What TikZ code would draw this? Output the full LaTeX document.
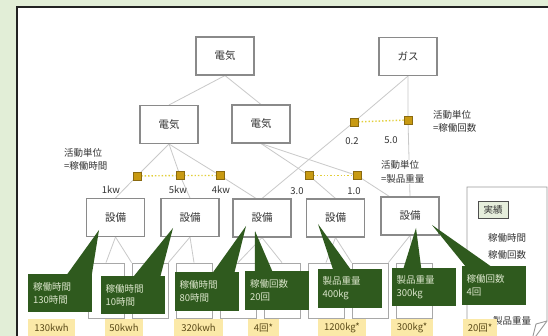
\documentclass[tikz,border=0pt]{standalone}
\usepackage{fontspec}
\setmainfont{Noto Sans CJK JP}
\usetikzlibrary{calc}
\pgfdeclarelayer{back}
\pgfdeclarelayer{wires}
\pgfsetlayers{back,wires,main}
\definecolor{bgc}{HTML}{E2EED7}
\definecolor{framec}{HTML}{222222}
\definecolor{boxgray}{HTML}{8A8A8A}
\definecolor{txt}{HTML}{333333}
\definecolor{wiregray}{HTML}{C9C9C9}
\definecolor{sqfill}{HTML}{C89A12}
\definecolor{sqdark}{HTML}{8A6A10}
\definecolor{dotyellow}{HTML}{E2CF3A}
\definecolor{cgreen}{HTML}{2F5A1E}
\definecolor{ctext}{HTML}{DCE6CC}
\definecolor{vyellow}{HTML}{FBE9A8}
\definecolor{vtext}{HTML}{5A4A18}
\definecolor{smallgray}{HTML}{A8A8A8}
\definecolor{notegray}{HTML}{9A9A9A}
\definecolor{jfill}{HTML}{E6EEDC}
\begin{document}
\begin{tikzpicture}[x=1pt,y=-1pt,
  box/.style={draw=boxgray, line width=1.1pt, fill=white, minimum width=58pt, minimum height=38pt, inner sep=0pt, font=\fontsize{10.5}{12}\selectfont, text=txt},
  sq/.style={draw=sqdark, fill=sqfill, minimum size=8pt, inner sep=0pt, line width=0.6pt},
  wire/.style={draw=wiregray, line width=0.8pt},
  dotline/.style={draw=dotyellow, line width=1.4pt, dotted},
  lbl/.style={font=\fontsize{9.5}{13.5}\selectfont, text=txt, inner sep=1pt, align=left},
  wlbl/.style={lbl, fill=white},
  call/.style={fill=cgreen, text=ctext, font=\fontsize{9.5}{13}\selectfont, inner xsep=5pt, inner ysep=0pt, align=left, minimum height=38pt, text width=54pt},
  val/.style={fill=vyellow, text=vtext, font=\fontsize{9.5}{11}\selectfont, inner sep=0pt, minimum height=18pt},
  smallbox/.style={draw=smallgray, fill=white, line width=0.8pt, minimum width=36pt, minimum height=55pt, inner sep=0pt},
  notetxt/.style={font=\fontsize{9.5}{11}\selectfont, text=txt, inner sep=0pt}
]
\useasboundingbox (0,0) rectangle (548,336);
\begin{pgfonlayer}{back}
  \fill[bgc] (0,0) rectangle (548,336);
  \filldraw[fill=white, draw=framec, line width=2pt] (17,7) rectangle (570,360);
\end{pgfonlayer}

% main boxes
\node[box] (e0) at (225,56) {電気};
\node[box] (gas) at (408,56.5) {ガス};
\node[box] (e1) at (169,124.5) {電気};
\node[box] (e2) at (261,124) {電気};

% small boxes (lower level)
\foreach \i in {1,...,8} {
  \node[smallbox] (b\i) at ({106+44*(\i-1)},290.5) {};
}

\node[box] (s1) at (115.5,217.5) {設備};
\node[box] (s2) at (190,217.5) {設備};
\node[box] (s3) at (262,218) {設備};
\node[box] (s4) at (335.5,218) {設備};
\node[box] (s5) at (410,216) {設備};

% squares
\node[sq] (q1) at (137,176) {};
\node[sq] (q2) at (180,175.5) {};
\node[sq] (q3) at (220,175.5) {};
\node[sq] (q4) at (309,175.5) {};
\node[sq] (q5) at (357,175.5) {};
\node[sq] (g1) at (354,122) {};
\node[sq] (g2) at (408,120) {};

% wires
\begin{pgfonlayer}{wires}
  \draw[wire] (e0.south) -- (e1.north);
  \draw[wire] (e0.south) -- (e2.north);
  \draw[wire] (gas.south) -- (g1.center) -- (s3.north);
  \draw[wire] (gas.south) -- (g2.center) -- (s5.north);
  \draw[wire] (e1.south) -- (q1.center) -- (s1.north);
  \draw[wire] (e1.south) -- (q2.center) -- (s2.north);
  \draw[wire] (e1.south) -- (q3.center) -- ($(s3.north west)!0.4!(s3.north east)$);
  \draw[wire] (e2.south) -- (q4.center) -- (s4.north);
  \draw[wire] (e2.south) -- (q5.center) -- ($(s5.north west)!0.15!(s5.north east)$);
  \draw[wire] (s1.south) -- (b1.north);
  \draw[wire] (s1.south) -- (b2.north west);
  \draw[wire] (s2.south) -- (b2.north east);
  \draw[wire] (s2.south) -- (b3.north);
  \draw[wire] (s3.south) -- (b4.north);
  \draw[wire] (s3.south) -- (b5.north);
  \draw[wire] (s4.south) -- (b6.north);
  \draw[wire] (s4.south) -- (b7.north west);
  \draw[wire] (s5.south) -- (b7.north east);
  \draw[wire] (s5.south) -- (b8.north);
  \draw[dotline] (q1) -- (q2) -- (q3);
  \draw[dotline] (q4) -- (q5);
  \draw[dotline] (g1) -- (g2);
\end{pgfonlayer}

% labels
\node[lbl, anchor=west] (la1) at (63,159.5) {活動単位\\=稼働時間};
\node[lbl, anchor=west] (la2) at (432,121.5) {活動単位\\=稼働回数};
\node[wlbl, anchor=west] (la3) at (380,172) {活動単位\\=製品重量};
\node[lbl] (n02) at (352,141) {0.2};
\node[lbl] (n50) at (391,140) {5.0};
\node[lbl] (k1) at (111,190) {1kw};
\node[lbl] (k5) at (178,190) {5kw};
\node[lbl] (k4) at (221,190) {4kw};
\node[lbl] (n30) at (297,191) {3.0};
\node[lbl] (n10) at (354,191) {1.0};

% note panel on right
\filldraw[fill=white, draw=notegray, line width=0.9pt] (467,345) -- (467,187) -- (547,187) -- (547,321) -- (533,340);
\draw[notegray, line width=0.9pt] (533,336) -- (536,324) -- (547,321);
\node[draw=framec!80, fill=jfill, line width=0.9pt, minimum width=30pt, minimum height=17pt, inner sep=0pt, font=\fontsize{9.5}{11}\selectfont, text=txt] (jk) at (493,209.5) {実績};
\node[notetxt] (nt1) at (507,238) {稼働時間};
\node[notetxt] (nt2) at (507,255) {稼働回数};
\node[notetxt] (nt3) at (512,321) {製品重量};

% callouts
\node[call] (c1) at (60,293) {稼働時間\\130時間};
\fill[cgreen] ($(c1.north west)+(39,1)$) -- ($(s1)+(-16.5,12.5)$) -- ($(c1.north west)+(64,1)$) -- cycle;
\node[call] (c2) at (132.5,295) {稼働時間\\10時間};
\fill[cgreen] ($(c2.north west)+(33,1)$) -- ($(s2)+(-17,10.5)$) -- ($(c2.north west)+(60,1)$) -- cycle;
\node[call] (c3) at (206.5,291.5) {稼働時間\\80時間};
\fill[cgreen] ($(c3.north west)+(38,1)$) -- ($(s3)+(-16,8)$) -- ($(c3.north west)+(60,1)$) -- cycle;
\node[call] (c4) at (277,290.5) {稼働回数\\20回};
\fill[cgreen] ($(c4.north west)+(10,1)$) -- ($(s3)+(-7,13)$) -- ($(c4.north west)+(28,1)$) -- cycle;
\node[call] (c5) at (349.5,288.5) {製品重量\\400kg};
\fill[cgreen] ($(c5.north west)+(16,1)$) -- ($(s4)+(-17.5,6)$) -- ($(c5.north west)+(34,1)$) -- cycle;
\node[call] (c6) at (423.5,287) {製品重量\\300kg};
\fill[cgreen] ($(c6.north west)+(12,1)$) -- ($(s5)+(6,12)$) -- ($(c6.north west)+(30,1)$) -- cycle;
\node[call] (c7) at (493.5,285.5) {稼働回数\\4回};
\fill[cgreen] ($(c7.north west)+(5,1)$) -- ($(s5)+(22,9)$) -- ($(c7.north west)+(31,1)$) -- cycle;

% values
\node[val, minimum width=47pt] (v1) at (51.5,328) {130kwh};
\node[val, minimum width=38pt] (v2) at (124,328) {50kwh};
\node[val, minimum width=49pt] (v3) at (198.5,328) {320kwh};
\node[val, minimum width=31pt] (v4) at (263.5,328) {4回*};
\node[val, minimum width=48pt] (v5) at (342,328) {1200kg*};
\node[val, minimum width=42pt] (v6) at (412,328) {300kg*};
\node[val, minimum width=34pt] (v7) at (480,328) {20回*};
\end{tikzpicture}
\end{document}
